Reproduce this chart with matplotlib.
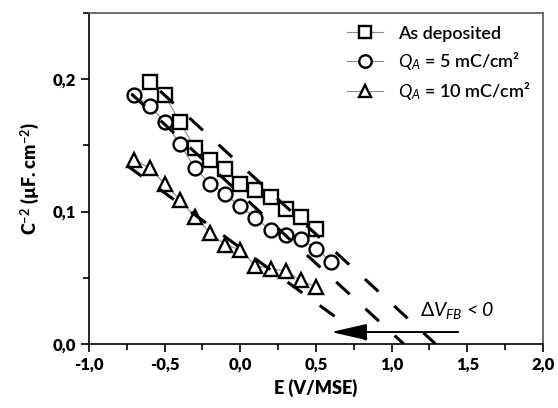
import numpy as np
import matplotlib
matplotlib.use("Agg")
import matplotlib.pyplot as plt
from matplotlib.ticker import MultipleLocator, FixedLocator, FixedFormatter

plt.rcParams['font.family'] = ['Lato', 'DejaVu Sans']
plt.rcParams['mathtext.fontset'] = 'custom'
plt.rcParams['mathtext.it'] = 'Lato:italic'
plt.rcParams['mathtext.rm'] = 'Lato'
plt.rcParams['mathtext.bf'] = 'Lato:bold'

# données
x_dep = [-0.6, -0.5, -0.4, -0.3, -0.2, -0.1, 0.0, 0.1, 0.2, 0.3, 0.4, 0.5]
y_dep = [0.198, 0.188, 0.168, 0.148, 0.139, 0.132, 0.121, 0.116, 0.111, 0.102, 0.096, 0.087]

x_q5 = [-0.7, -0.6, -0.5, -0.4, -0.3, -0.2, -0.1, 0.0, 0.1, 0.2, 0.3, 0.4, 0.5, 0.6]
y_q5 = [0.188, 0.180, 0.168, 0.151, 0.133, 0.121, 0.113, 0.104, 0.095, 0.086, 0.082, 0.079, 0.072, 0.062]

x_q10 = [-0.7, -0.6, -0.5, -0.4, -0.3, -0.2, -0.1, 0.0, 0.1, 0.2, 0.3, 0.4, 0.5]
y_q10 = [0.139, 0.133, 0.121, 0.109, 0.096, 0.084, 0.075, 0.071, 0.059, 0.057, 0.055, 0.048, 0.043]

# droites de Mott-Schottky (pente, V_FB, debut)
fit_slope = [-0.105, -0.105, -0.083]
fit_vfb = [1.29, 1.08, 0.875]
fit_start = [-0.53, -0.72, -0.75]

labels = ["As deposited", "$Q_A$ = 5 mC/cm²", "$Q_A$ = 10 mC/cm²"]
markers = ["s", "o", "^"]

xticks = [-1.0, -0.5, 0.0, 0.5, 1.0, 1.5, 2.0]
xticklabels = ["-1,0", "-0,5", "0,0", "0,5", "1,0", "1,5", "2,0"]
yticks = [0.0, 0.1, 0.2]
yticklabels = ["0,0", "0,1", "0,2"]

fig, ax = plt.subplots(figsize=(5.58, 4.08), dpi=100)
fig.subplots_adjust(left=0.1595, right=0.973, bottom=0.157, top=0.968)

series = [(x_dep, y_dep), (x_q5, y_q5), (x_q10, y_q10)]
for (xs, ys), m, lab in zip(series, markers, labels):
    ax.plot(xs, ys, color="#8a8a8a", lw=0.8, marker=m, ms=10,
            mfc="white", mec="black", mew=1.7, label=lab, zorder=3)

for s, vfb, x0 in zip(fit_slope, fit_vfb, fit_start):
    xx = np.array([x0, vfb])
    ax.plot(xx, s * (xx - vfb), color="black", lw=2.2, dashes=(6, 7), zorder=4)

ax.annotate("", xy=(0.6, 0.009), xytext=(1.44, 0.009),
            arrowprops=dict(arrowstyle="-|>,head_length=2.2,head_width=0.5",
                            color="black", lw=1.4, shrinkA=0, shrinkB=0))
ax.text(1.19, 0.021, r"$\Delta V_{FB}$ < 0", fontsize=14, style="italic")

ax.set_xlim(-1.0, 2.0)
ax.set_ylim(0.0, 0.25)
ax.xaxis.set_major_locator(FixedLocator(xticks))
ax.xaxis.set_major_formatter(FixedFormatter(xticklabels))
ax.yaxis.set_major_locator(FixedLocator(yticks))
ax.yaxis.set_major_formatter(FixedFormatter(yticklabels))
ax.xaxis.set_minor_locator(MultipleLocator(0.25))
ax.yaxis.set_minor_locator(MultipleLocator(0.05))
ax.tick_params(which="major", direction="out", length=6, width=1.2, labelsize=12)
ax.tick_params(which="minor", direction="out", length=4, width=1.2)
for t in ax.get_xticklabels() + ax.get_yticklabels():
    t.set_fontweight("heavy")

for side in ["left", "bottom"]:
    ax.spines[side].set_linewidth(1.2)
for side in ["top", "right"]:
    ax.spines[side].set_linewidth(1.2)
    ax.spines[side].set_color("#555555")

ax.set_xlabel("E (V/MSE)", fontsize=13, fontweight="heavy", labelpad=4)
ax.set_ylabel(r"C$^{\mathbf{-2}}$ (µF. cm$^{\mathbf{-2}}$)", fontsize=13,
              fontweight="heavy", labelpad=8)

leg = ax.legend(loc="upper right", frameon=False, fontsize=13, handlelength=2.0,
                labelspacing=0.45, handletextpad=0.8, borderaxespad=0.3,
                markerscale=0.9)
for t in leg.get_texts():
    t.set_fontweight("semibold")

fig.savefig("out.png", dpi=100)
